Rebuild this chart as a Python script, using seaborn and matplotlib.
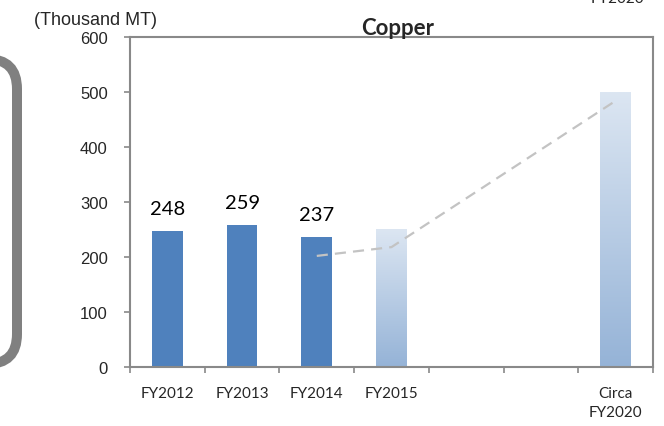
import numpy as np
import pandas as pd
import matplotlib
matplotlib.use("Agg")
import matplotlib.pyplot as plt
from matplotlib.patches import FancyBboxPatch
from matplotlib.colors import LinearSegmentedColormap
import seaborn as sns

# Copper production volumes (thousand metric tons)
categories = ["FY2012", "FY2013", "FY2014", "FY2015", " ", "  ", "Circa\nFY2020"]
tick_labels = ["FY2012", "FY2013", "FY2014", "FY2015", "", "", "Circa\nFY2020"]
volumes = [248, 259, 237, 250, np.nan, np.nan, 500]
projected = [False, False, False, True, False, False, True]
labelled = [True, True, True, False, False, False, False]

# Projected growth path
trend_categories = ["FY2014", "FY2015", "Circa\nFY2020"]
trend_values = [202, 218, 484]

y_ticks = [0, 100, 200, 300, 400, 500, 600]

sns.set_style("white")
plt.rcParams["font.family"] = ["Liberation Sans", "DejaVu Sans"]

W, H = 664, 427
fig = plt.figure(figsize=(W / 100, H / 100), dpi=100)
ax = fig.add_axes([130 / W, 59 / H, 523 / W, 330 / H])

df = pd.DataFrame({"period": categories, "volume": volumes})
sns.barplot(data=df, x="period", y="volume", order=categories,
            color="#4f81bd", saturation=1, width=0.41, errorbar=None,
            linewidth=0, ax=ax)

ax.set_xlim(-0.5, len(categories) - 0.5)
ax.set_ylim(0, 600)

grad_cmap = LinearSegmentedColormap.from_list("proj", ["#95b3d7", "#dce6f2"])
gradient = np.linspace(0, 1, 256).reshape(-1, 1)

for patch in list(ax.patches):
    h = patch.get_height()
    if not np.isfinite(h) or h <= 0:
        continue
    xc = patch.get_x() + patch.get_width() / 2
    idx = int(round(xc))
    if projected[idx]:
        patch.set_facecolor("none")
        x0 = patch.get_x()
        x1 = x0 + patch.get_width()
        ax.imshow(gradient, extent=[x0, x1, 0, h], origin="lower",
                  cmap=grad_cmap, aspect="auto", zorder=patch.get_zorder(),
                  interpolation="bilinear")
    if labelled[idx]:
        ax.annotate(f"{volumes[idx]:g}", (xc, h), xytext=(0, 12),
                    textcoords="offset points", ha="center", va="baseline",
                    fontsize=14.5, family=["Lato", "DejaVu Sans"], color="black")

ax.set_xlim(-0.5, len(categories) - 0.5)
ax.set_ylim(0, 600)

trend_x = [categories.index(c) for c in trend_categories]
ax.plot(trend_x, trend_values, color="#c3c3c3", lw=1.6,
        dashes=(5, 3.2), zorder=5)

# axes styling
spine_color = "#898989"
for s in ax.spines.values():
    s.set_visible(True)
    s.set_color(spine_color)
    s.set_linewidth(1.5)

ax.set_yticks(y_ticks)
ax.set_yticklabels([str(v) for v in y_ticks])
ax.tick_params(axis="y", which="major", direction="out", length=4,
               width=1.2, color=spine_color, pad=12, labelsize=12,
               left=True)

ax.set_xticks(range(len(categories)))
ax.set_xticklabels(tick_labels, family=["Lato", "DejaVu Sans"], fontsize=11,
                   va="top", linespacing=1.45)
ax.set_xticks(np.arange(-0.5, len(categories), 1), minor=True)
ax.tick_params(axis="x", which="major", length=0, pad=14)
ax.tick_params(axis="x", which="minor", direction="out", length=4,
               width=1.2, color=spine_color, bottom=True)
ax.set_xlabel("")
ax.set_ylabel("")

ax.text(0.512, 1.008, "Copper", transform=ax.transAxes, ha="center",
        va="baseline", fontsize=16, fontweight="bold",
        family=["Lato", "DejaVu Sans"])

fig.text(95 / W, 1 - 25 / H, "(Thousand MT)", ha="center", va="baseline",
         fontsize=13)

fig.text(617 / W, 1 - 3 / H, "FY2020", ha="center", va="baseline",
         fontsize=11, family=["Lato", "DejaVu Sans"])

# rounded panel frame on the left edge
frame = FancyBboxPatch((-3.0, 0.62), 3.17, 3.05,
                       boxstyle="round,pad=0,rounding_size=0.3",
                       transform=fig.dpi_scale_trans, fill=False,
                       edgecolor="#808080", linewidth=7.2, clip_on=False)
fig.patches.append(frame)

fig.savefig("out.png", dpi=100)
